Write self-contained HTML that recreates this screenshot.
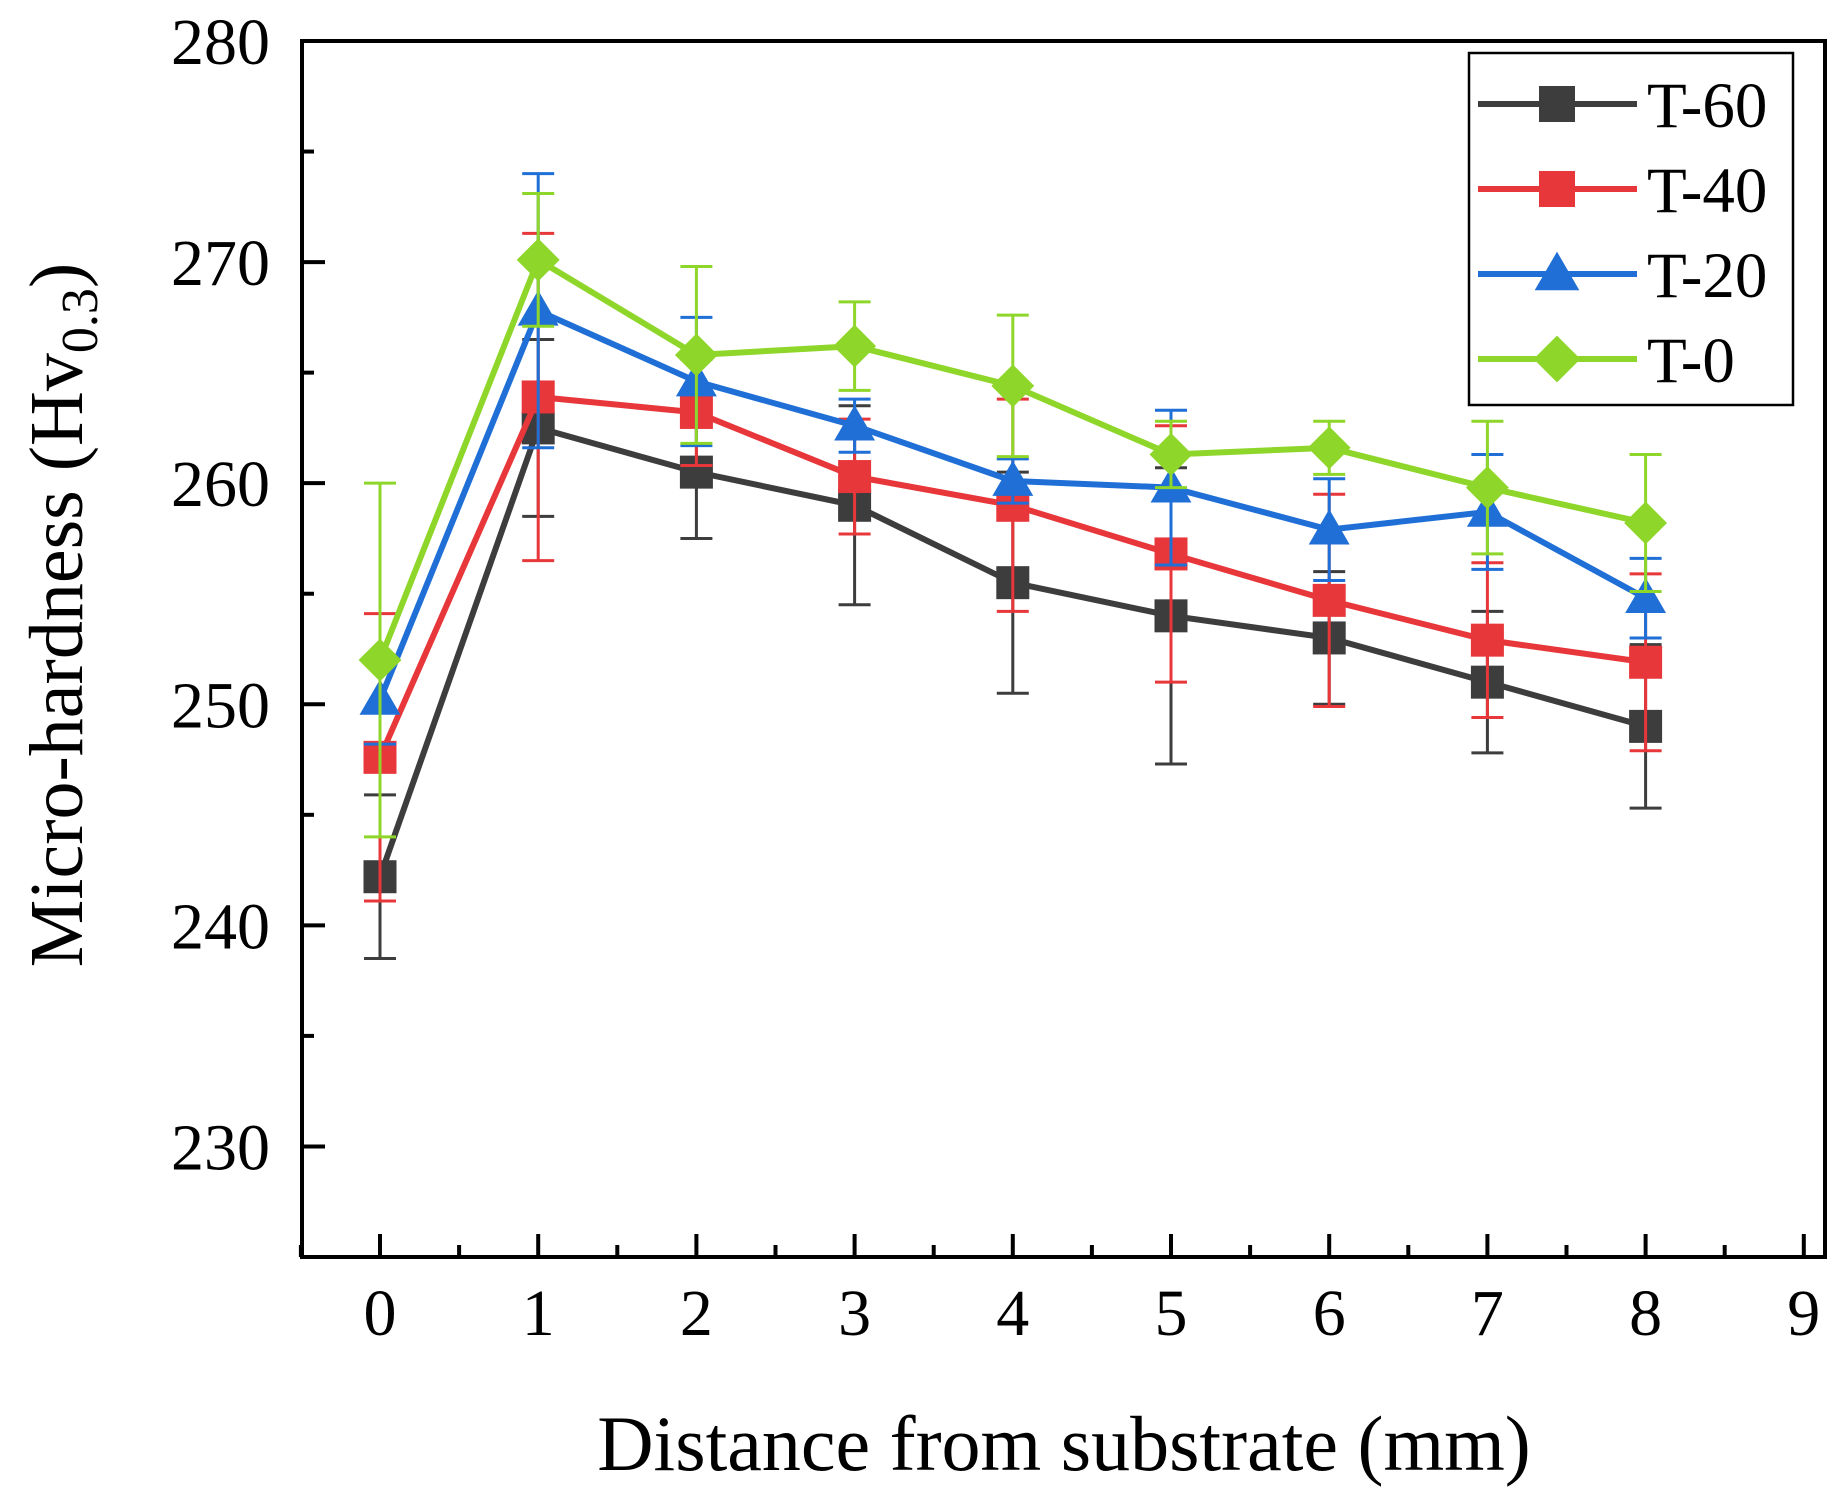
<!DOCTYPE html>
<html><head><meta charset="utf-8"><style>
html,body{margin:0;padding:0;background:#fff;}
svg{display:block;}
text{font-family:"Liberation Serif",serif;fill:#000;}
</style></head><body>
<svg id="chart" width="1844" height="1490" viewBox="0 0 1844 1490" xmlns="http://www.w3.org/2000/svg"></svg>
<script>
const xValues=[0,1,2,3,4,5,6,7,8];
const xTicks=[0,1,2,3,4,5,6,7,8,9];
const yTicks=[230,240,250,260,270,280];
const seriesNames=["T-60","T-40","T-20","T-0"];
const t60=[242.2,262.5,260.5,259,255.5,254,253,251,249];
const t60Err=[3.7,4,3,4.5,5,6.7,3,3.2,3.7];
const t40=[247.6,263.9,263.2,260.3,259,256.8,254.7,252.9,251.9];
const t40Err=[6.5,7.4,2.4,2.6,4.8,5.8,4.8,3.5,4];
const t20=[250.2,267.8,264.6,262.6,260.1,259.8,257.9,258.7,254.8];
const t20Err=[2,6.2,2.9,1.2,1,3.5,2.3,2.6,1.8];
const t0=[252,270.1,265.8,266.2,264.4,261.3,261.6,259.8,258.2];
const t0Err=[8,3,4,2,3.2,1.5,1.2,3,3.1];

const svg=document.getElementById('chart');
const NS="http://www.w3.org/2000/svg";
const L=302,R=1825,T=41,B=1257;
const X0=380,XS=158.2;
const yMin=225,yMax=280;
const xs=v=>X0+v*XS;
const ys=v=>B-(v-yMin)/(yMax-yMin)*(B-T);
function mk(tag,attrs,parent){const e=document.createElementNS(NS,tag);for(const k in attrs)e.setAttribute(k,attrs[k]);(parent||svg).appendChild(e);return e;}

const series=[
 {name:"T-60",vals:t60,err:t60Err,color:"#3d3d3d",marker:"square"},
 {name:"T-40",vals:t40,err:t40Err,color:"#e8373a",marker:"square"},
 {name:"T-20",vals:t20,err:t20Err,color:"#1f6fd6",marker:"triangle"},
 {name:"T-0",vals:t0,err:t0Err,color:"#8fd62a",marker:"diamond"}
];
function marker(g,type,cx,cy,color,s){
 let e;
 if(type==="square")e=mk('rect',{x:cx-s/2,y:cy-s/2,width:s,height:s,fill:color},g);
 else if(type==="triangle")e=mk('polygon',{points:`${cx},${cy-s*0.62} ${cx-s*0.62},${cy+s*0.45} ${cx+s*0.62},${cy+s*0.45}`,fill:color},g);
 else e=mk('polygon',{points:`${cx},${cy-s*0.65} ${cx+s*0.65},${cy} ${cx},${cy+s*0.65} ${cx-s*0.65},${cy}`,fill:color},g);
 return e;
}
series.forEach(s=>{
 const g=mk('g',{});
 
 
 s.vals.forEach((v,i)=>{
  const x=xs(xValues[i]),y1=ys(v+s.err[i]),y2=ys(v-s.err[i]);
  const eb=mk('path',{d:`M${x},${y1}V${y2}M${x-16},${y1}H${x+16}M${x-16},${y2}H${x+16}`,stroke:s.color,'stroke-width':3,fill:'none'},g);
  
  
 });
 const line=mk('polyline',{points:s.vals.map((v,i)=>xs(xValues[i])+','+ys(v)).join(' '),stroke:s.color,'stroke-width':6,fill:'none'},g);
 
 
 s.vals.forEach((v,i)=>{
  const m=marker(g,s.marker,xs(xValues[i]),ys(v),s.color,33);
  
  
 });
});
const frame=mk('rect',{x:L,y:T,width:R-L,height:B-T,fill:'none',stroke:'#000','stroke-width':4});


xTicks.forEach(t=>{
 const x=xs(t);
 mk('line',{x1:x,y1:B,x2:x,y2:B-23,stroke:'#000','stroke-width':4});
 if(t<9){const xm=xs(t+0.5);mk('line',{x1:xm,y1:B,x2:xm,y2:B-12,stroke:'#000','stroke-width':4});}
 const tx=mk('text',{x:x,y:1335,'font-size':66,'text-anchor':'middle'});
 tx.textContent=t;
 
 
});
mk('line',{x1:xs(-0.5),y1:B,x2:xs(-0.5),y2:B-12,stroke:'#000','stroke-width':4});
yTicks.forEach(t=>{
 const y=ys(t);
 mk('line',{x1:L,y1:y,x2:L+23,y2:y,stroke:'#000','stroke-width':4});
 const ym=ys(t-5);
 mk('line',{x1:L,y1:ym,x2:L+12,y2:ym,stroke:'#000','stroke-width':4});
 const tx=mk('text',{x:270,y:y+23,'font-size':66,'text-anchor':'end'});
 tx.textContent=t;
 
 
});
const xt=mk('text',{x:1064,y:1470,'font-size':78,'text-anchor':'middle'});
xt.textContent="Distance from substrate (mm)";


const yt=mk('text',{x:0,y:0,'font-size':76,'text-anchor':'middle',transform:'translate(82,615) rotate(-90)'});
yt.innerHTML='Micro-hardness (Hv<tspan font-size="52" dy="15">0.3</tspan><tspan dy="-15">)</tspan>';


const lg=mk('g',{});


mk('rect',{x:1469,y:53,width:324,height:352,fill:'#fff',stroke:'#000','stroke-width':2.5},lg);
series.forEach((s,i)=>{
 const y=104+i*85;
 const e=mk('g',{},lg);
 
 
 mk('line',{x1:1478,y1:y,x2:1637,y2:y,stroke:s.color,'stroke-width':6},e);
 marker(e,s.marker,1557,y,s.color,36);
 const t=mk('text',{x:1647,y:y+23,'font-size':65},e);
 t.textContent=seriesNames[i];
});
</script>
</body></html>
